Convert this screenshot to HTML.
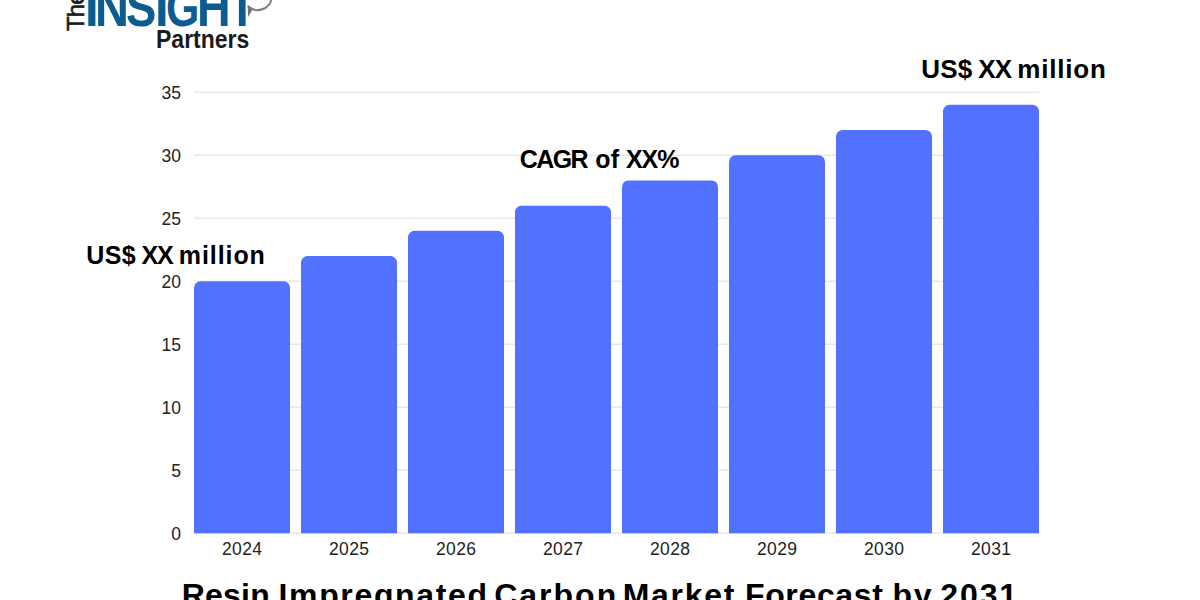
<!DOCTYPE html>
<html>
<head>
<meta charset="utf-8">
<style>
html,body{margin:0;padding:0;}
body{width:1200px;height:600px;overflow:hidden;background:#fff;position:relative;font-family:"Liberation Sans",sans-serif;}
.abs{position:absolute;}
.yl{position:absolute;right:1019px;font-size:17.5px;color:#222;line-height:20px;height:20px;text-align:right;}
.xl{position:absolute;top:538.5px;width:96px;text-align:center;font-size:17.5px;color:#222;line-height:20px;letter-spacing:0.3px;text-indent:0.3px;}
.ins{font-size:53px;font-weight:bold;color:#0c5b91;line-height:53px;top:-19px;transform-origin:0 0;}
.tw{position:absolute;top:579.3px;font-size:32px;line-height:32px;font-weight:bold;color:#000;white-space:nowrap;}
.aw{position:absolute;font-weight:bold;color:#000;white-space:nowrap;}
</style>
</head>
<body>
<!-- logo -->
<svg class="abs" style="left:240px;top:0px;" width="40" height="24" viewBox="0 0 40 24">
  <path d="M8 6 A14 14 0 0 0 31.7 -2" stroke="#7c7c7c" stroke-width="2" fill="none"/>
  <path d="M7.6 5.2 L12.6 9.6 L8.2 16.9 Z" fill="#737373"/>
</svg>
<div class="abs" style="left:64.4px;top:31.3px;transform-origin:0 0;transform:rotate(-90deg);font-size:24px;color:#1a1a1a;line-height:24px;-webkit-text-stroke:0.6px #1a1a1a;letter-spacing:-0.9px;white-space:nowrap;">The</div>
<div class="abs ins" style="left:84.5px;transform:scaleX(0.93)">I</div>
<div class="abs ins" style="left:94.6px;transform:scaleX(0.887)">N</div>
<div class="abs ins" style="left:126.3px;transform:scaleX(0.855)">S</div>
<div class="abs ins" style="left:155.3px;transform:scaleX(0.93)">I</div>
<div class="abs ins" style="left:165.9px;transform:scaleX(0.81)">G</div>
<div class="abs ins" style="left:196.5px;transform:scaleX(0.88)">H</div>
<div class="abs ins" style="left:227.6px;transform:scaleX(0.88)">T</div>
<div class="abs" style="left:155.7px;top:25.9px;font-size:26.3px;font-weight:bold;color:#1a1a1a;line-height:26.3px;transform:scaleX(0.875);transform-origin:0 0;white-space:nowrap;">Partners</div>


<!-- gridlines -->
<svg class="abs" style="left:0;top:0" width="1200" height="600" stroke="#e8e8e8" stroke-width="1.4"><line x1="194" x2="1039.5" y1="92.25" y2="92.25"/><line x1="194" x2="1039.5" y1="155.25" y2="155.25"/><line x1="194" x2="1039.5" y1="218.25" y2="218.25"/><line x1="194" x2="1039.5" y1="281.25" y2="281.25"/><line x1="194" x2="1039.5" y1="344.25" y2="344.25"/><line x1="194" x2="1039.5" y1="407.25" y2="407.25"/><line x1="194" x2="1039.5" y1="470.25" y2="470.25"/><line x1="194" x2="1039.5" y1="533.25" y2="533.25"/></svg>

<!-- y labels -->
<div class="yl" style="top:82.5px">35</div>
<div class="yl" style="top:145.5px">30</div>
<div class="yl" style="top:208.5px">25</div>
<div class="yl" style="top:271.5px">20</div>
<div class="yl" style="top:334.5px">15</div>
<div class="yl" style="top:397.5px">10</div>
<div class="yl" style="top:460.5px">5</div>
<div class="yl" style="top:523.5px">0</div>

<!-- bars -->
<svg class="abs" style="left:0;top:0" width="1200" height="600" fill="#5271ff">
<path d="M194 533.25V287.75A6.5 6.5 0 0 1 200.5 281.25H283.5A6.5 6.5 0 0 1 290 287.75V533.25Z"/>
<path d="M301 533.25V262.55A6.5 6.5 0 0 1 307.5 256.05H390.5A6.5 6.5 0 0 1 397 262.55V533.25Z"/>
<path d="M408 533.25V237.35A6.5 6.5 0 0 1 414.5 230.85H497.5A6.5 6.5 0 0 1 504 237.35V533.25Z"/>
<path d="M515 533.25V212.15A6.5 6.5 0 0 1 521.5 205.65H604.5A6.5 6.5 0 0 1 611 212.15V533.25Z"/>
<path d="M622 533.25V186.95A6.5 6.5 0 0 1 628.5 180.45H711.5A6.5 6.5 0 0 1 718 186.95V533.25Z"/>
<path d="M729 533.25V161.75A6.5 6.5 0 0 1 735.5 155.25H818.5A6.5 6.5 0 0 1 825 161.75V533.25Z"/>
<path d="M836 533.25V136.55A6.5 6.5 0 0 1 842.5 130.05H925.5A6.5 6.5 0 0 1 932 136.55V533.25Z"/>
<path d="M943 533.25V111.35A6.5 6.5 0 0 1 949.5 104.85H1032.5A6.5 6.5 0 0 1 1039 111.35V533.25Z"/>
</svg>

<!-- x labels -->
<div class="xl" style="left:194px">2024</div>
<div class="xl" style="left:301px">2025</div>
<div class="xl" style="left:408px">2026</div>
<div class="xl" style="left:515px">2027</div>
<div class="xl" style="left:622px">2028</div>
<div class="xl" style="left:729px">2029</div>
<div class="xl" style="left:836px">2030</div>
<div class="xl" style="left:943px">2031</div>

<!-- annotations -->
<div class="aw" style="left:86.3px;top:243.3px;font-size:25px;line-height:25px;letter-spacing:0.35px">US$</div>
<div class="aw" style="left:141.5px;top:243.3px;font-size:25px;line-height:25px;letter-spacing:-1.2px">XX</div>
<div class="aw" style="left:178.8px;top:243.3px;font-size:25px;line-height:25px;letter-spacing:0.92px">million</div>
<div class="aw" style="left:519.8px;top:146.8px;font-size:25px;line-height:25px;letter-spacing:-1.6px">CAGR</div>
<div class="aw" style="left:595.25px;top:146.8px;font-size:25px;line-height:25px;letter-spacing:0.25px">of</div>
<div class="aw" style="left:626px;top:146.8px;font-size:25px;line-height:25px;letter-spacing:-1.1px">XX%</div>
<div class="aw" style="left:921.3px;top:56px;font-size:26px;line-height:26px;letter-spacing:0.2px">US$</div>
<div class="aw" style="left:978.2px;top:56px;font-size:26px;line-height:26px;letter-spacing:-0.9px">XX</div>
<div class="aw" style="left:1017.2px;top:56px;font-size:26px;line-height:26px;letter-spacing:0.83px">million</div>

<!-- title -->
<div class="tw" style="left:181.75px;letter-spacing:0.2px">Resin</div>
<div class="tw" style="left:278.5px;letter-spacing:1.65px">Impregnated</div>
<div class="tw" style="left:494.2px;letter-spacing:2.0px">Carbon</div>
<div class="tw" style="left:622.7px;letter-spacing:1.7px">Market</div>
<div class="tw" style="left:745px;letter-spacing:0.64px">Forecast</div>
<div class="tw" style="left:892.4px;letter-spacing:1.85px">by</div>
<div class="tw" style="left:940.25px;letter-spacing:1.9px">2031</div>
</body>
</html>
